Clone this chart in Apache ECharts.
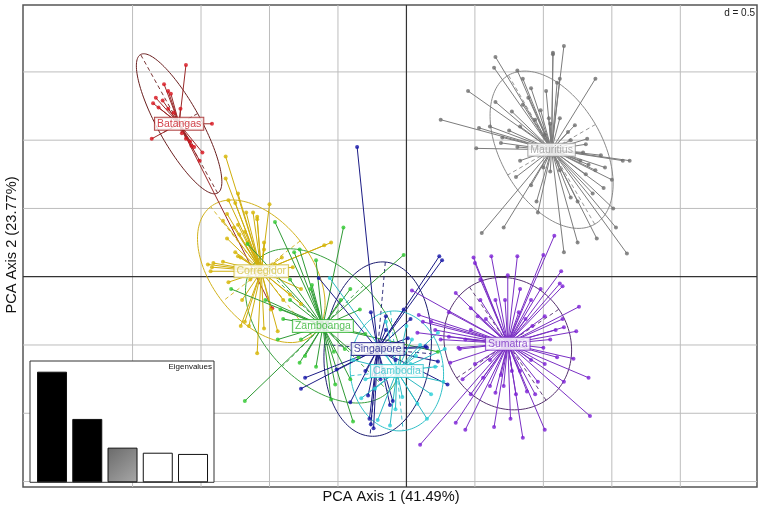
<!DOCTYPE html>
<html><head><meta charset="utf-8">
<script src="https://cdn.jsdelivr.net/npm/echarts/dist/echarts.min.js"></script>
<style>html,body{margin:0;padding:0;background:#fff}#c{width:762px;height:511px}</style>
</head><body><div id="c"></div>
<script>
// ---- data ----
const groups = ['Batangas','Corregidor','Zamboanga','Singapore','Cambodia','Sumatra','Mauritius'];
const centroids = [[-1.66,1.12],[-1.06,0.04],[-0.61,-0.36],[-0.21,-0.53],[-0.07,-0.69],[0.74,-0.49],[1.06,0.93]];
const ellA = [0.58,0.60,0.68,0.64,0.44,0.50,0.63];
const ellB = [0.155,0.36,0.42,0.39,0.34,0.45,0.37];
const ellAngle = [-61,-52,-45,85,96,124,-60];

const batangas = [[-1.61,1.55],[-1.77,1.41],[-1.74,1.36],[-1.72,1.34],[-1.83,1.31],[-1.78,1.29],[-1.85,1.27],[-1.81,1.24],[-1.74,1.23],[-1.70,1.20],[-1.65,1.23],[-1.42,1.12],[-1.86,1.01],[-1.64,1.05],[-1.61,1.01],[-1.58,0.99],[-1.57,0.96],[-1.55,0.95],[-1.49,0.91],[-1.51,0.85],[-0.98,-0.23]];
const corregidor = [[-1.32,0.88],[-1.32,0.72],[-1.23,0.61],[-1.30,0.56],[-1.25,0.54],[-1.00,0.53],[-1.17,0.47],[-1.09,0.44],[-1.09,0.42],[-1.31,0.46],[-1.34,0.41],[-1.26,0.36],[-1.31,0.28],[-1.25,0.18],[-1.04,0.25],[-1.04,0.20],[-1.16,0.25],[-0.55,0.25],[-0.60,0.23],[-1.12,0.47],[-1.23,0.38],[-1.22,0.31],[-1.18,0.33],[-1.45,0.09],[-1.42,0.07],[-1.43,0.04],[-1.41,0.10],[-1.34,0.11],[-1.21,0.14],[-1.23,0.15],[-1.30,-0.04],[-1.21,-0.36],[-1.15,-0.36],[-1.04,-0.38],[-0.94,-0.40],[-1.09,-0.56],[-1.18,-0.33],[-0.90,-0.17],[-0.85,-0.13],[-0.77,-0.09],[-0.96,0.09],[-0.91,0.14],[-0.83,0.07],[-1.14,-0.02],[-1.20,-0.17],[-0.99,-0.24],[-0.77,-0.20]];
const zamboanga = [[-0.46,0.36],[-0.78,0.20],[-0.66,0.12],[-0.02,0.16],[-0.96,0.40],[-1.16,0.24],[-0.82,0.18],[-1.28,-0.09],[-0.90,-0.31],[-0.94,-0.46],[-1.18,-0.91],[-0.78,-0.63],[-0.74,-0.58],[-0.66,-0.66],[-0.39,-1.06],[-0.53,-0.55],[0.23,-0.55],[-0.48,-0.17],[-0.41,-0.09],[-0.34,-0.24],[-0.85,-0.17],[-0.70,-0.09],[-0.52,-0.79],[-0.41,-0.75],[-0.92,-0.24],[-0.30,-0.42],[-0.55,-0.90],[-0.45,-0.53],[-0.69,-0.06],[-1.03,-0.17],[-0.85,-0.02],[-0.35,-0.59],[-0.77,-0.46]];
const singapore = [[-0.36,0.95],[-0.64,-0.01],[0.24,0.15],[0.26,0.12],[-0.02,-0.24],[-0.26,-0.26],[-0.15,-0.29],[0.01,-0.45],[0.15,-0.52],[0.23,-0.62],[-0.74,-0.74],[-0.77,-0.82],[-0.51,-0.68],[-0.41,-0.92],[-0.28,-0.87],[-0.27,-1.04],[-0.26,-1.08],[-0.24,-1.11],[-0.10,-0.91],[-0.12,-0.94],[0.30,-0.79],[-0.15,-0.39],[-0.34,-0.50],[-0.08,-0.61],[-0.19,-0.75],[-0.30,-0.69],[0.03,-0.31],[0.14,-0.51]];
const cambodia = [[-0.56,-0.01],[-0.15,-0.33],[0.00,-0.36],[0.23,-0.41],[0.07,-0.58],[0.21,-0.66],[0.27,-0.77],[0.08,-0.93],[-0.03,-0.88],[-0.12,-1.09],[-0.21,-1.05],[-0.33,-0.89],[0.15,-1.04],[0.10,-0.50],[0.03,-0.64],[-0.23,-0.82],[-0.08,-0.97],[-0.15,-0.57],[-0.30,-0.75],[0.18,-0.86],[0.04,-0.46],[-0.39,-0.61],[0.28,-0.53]];
const sumatra = [[0.49,0.14],[0.50,0.10],[0.62,0.15],[0.81,0.15],[1.00,0.16],[1.08,0.30],[0.74,0.01],[1.13,0.04],[1.12,-0.05],[1.14,-0.07],[0.36,-0.12],[1.26,-0.22],[0.47,-0.23],[0.31,-0.26],[0.09,-0.28],[0.12,-0.33],[0.08,-0.41],[0.04,-0.10],[0.18,-0.33],[0.31,-0.44],[0.82,-0.26],[1.01,-0.29],[1.14,-0.31],[1.15,-0.37],[1.24,-0.40],[1.00,-0.52],[1.22,-0.60],[1.10,-0.59],[1.33,-0.74],[1.15,-0.77],[1.34,-1.02],[0.96,-0.77],[1.01,-1.12],[0.85,-1.18],[0.76,-1.04],[0.64,-1.10],[0.43,-1.12],[0.36,-1.07],[0.10,-1.23],[0.41,-0.75],[0.56,-0.74],[0.61,-0.80],[0.65,-0.85],[0.71,-0.80],[0.88,-0.84],[0.32,-0.63],[0.38,-0.52],[0.83,-0.69],[0.52,-0.29],[0.92,-0.36],[0.94,-0.86],[0.39,-0.53],[0.54,-0.17],[0.65,-0.17],[0.91,-0.17],[0.98,-0.09],[0.47,-0.39],[0.43,-0.46],[0.61,-0.61],[0.91,-0.61],[1.01,-0.64],[0.69,-0.72],[0.77,-0.69],[0.50,-0.64],[0.58,-0.31],[0.87,-0.31],[1.05,-0.46],[1.09,-0.39],[0.25,-0.46],[0.21,-0.39],[0.80,-0.86],[0.47,-0.86],[0.72,-0.17],[0.83,-0.09],[0.54,-0.02]];
const mauritius = [[1.15,1.69],[1.07,1.64],[1.07,1.63],[0.65,1.61],[0.64,1.53],[0.81,1.51],[0.85,1.45],[1.12,1.45],[1.10,1.42],[1.38,1.45],[0.45,1.36],[0.91,1.38],[1.02,1.36],[0.65,1.28],[0.77,1.21],[0.85,1.26],[0.89,1.31],[1.05,1.12],[0.83,1.10],[0.61,1.10],[0.53,1.09],[0.25,1.15],[0.75,1.07],[0.70,1.02],[1.18,1.06],[1.32,1.01],[0.69,0.98],[0.51,0.94],[1.31,0.97],[1.29,0.91],[1.42,0.89],[1.58,0.85],[1.63,0.85],[1.33,0.82],[1.50,0.71],[1.44,0.65],[1.31,0.75],[0.80,0.73],[1.05,0.77],[1.00,0.80],[1.20,0.58],[1.25,0.55],[1.36,0.61],[1.51,0.50],[0.95,0.55],[0.96,0.47],[0.71,0.36],[0.55,0.32],[1.53,0.36],[1.39,0.28],[1.25,0.25],[1.15,0.18],[1.61,0.17],[0.81,0.95],[1.04,1.16],[0.98,1.22],[0.94,1.15],[1.12,1.16],[1.23,1.11],[1.20,1.00],[1.27,0.85],[1.12,0.78],[0.83,0.85],[0.91,0.67],[1.38,0.78],[1.45,0.80],[1.01,1.04]];
const groupPoints = [batangas, corregidor, zamboanga, singapore, cambodia, sumatra, mauritius];

const gridX = [-2,-1.5,-1,-0.5,0.5,1,1.5,2];
const gridY = [-1.5,-1,-0.5,0.5,1,1.5];
const eigCats = ['1','2','3','4','5'];
const eigValues = [41.49,23.77,13.0,11.1,10.64];

// ---- styles ----
const lineCol  = ['#9a2a2a','#cfae0c','#2f9a35','#1c1c86','#2bb9c2','#7a2fc4','#7c7c7c'];
const ptCol    = ['#d8121c','#d6b400','#2ec82e','#1212a8','#2ad0d8','#7a1ed6','#6e6e6e'];
const ellCol   = ['#6a1e1e','#d2b21c','#39a03e','#1c1c70','#30c0c8','#55306e','#8a8a8a'];
const labText  = ['#c8141e','#d4c040','#2fb42f','#1a1a8a','#30c4cc','#7a2fc4','#9a9a9a'];
const labBord  = ['#a01e1e','#d0bc30','#2fb42f','#1a1a8a','#30c4cc','#7a2fc4','#9a9a9a'];
const XMIN=-2.8, XMAX=2.56, YMIN=-1.54, YMAX=1.99;
const FONT = '"Liberation Sans", Arial, sans-serif';

const chart = echarts.init(document.getElementById('c'), null, {renderer:'canvas'});

function vLines(vals, color, w, z){
  return {type:'custom', xAxisIndex:0, yAxisIndex:0, silent:true, animation:false, z:z,
    data: vals.map(v=>[v,0]), encode:{x:0,y:1},
    renderItem:(p,api)=>{const a=api.coord([api.value(0),YMIN]), b=api.coord([api.value(0),YMAX]);
      return {type:'line', shape:{x1:a[0],y1:a[1],x2:b[0],y2:b[1]}, style:{stroke:color, lineWidth:w}};}};
}
function hLines(vals, color, w, z){
  return {type:'custom', xAxisIndex:0, yAxisIndex:0, silent:true, animation:false, z:z,
    data: vals.map(v=>[0,v]), encode:{x:0,y:1},
    renderItem:(p,api)=>{const a=api.coord([XMIN,api.value(1)]), b=api.coord([XMAX,api.value(1)]);
      return {type:'line', shape:{x1:a[0],y1:a[1],x2:b[0],y2:b[1]}, style:{stroke:color, lineWidth:w}};}};
}

const series = [];
series.push(vLines(gridX,'#bdbdbd',1,1));
series.push(hLines(gridY,'#bdbdbd',1,1));
series.push(vLines([0],'#333',1.2,1));
series.push(hLines([0],'#333',1.2,1));

groups.forEach((g,gi)=>{
  // ellipse with dashed axes
  series.push({type:'custom', xAxisIndex:0, yAxisIndex:0, silent:true, animation:false, clip:true, z:3,
    data:[[centroids[gi][0],centroids[gi][1],ellA[gi],ellB[gi],ellAngle[gi]]], encode:{x:0,y:1},
    renderItem:(p,api)=>{
      const cx=api.value(0), cy=api.value(1), a=api.value(2), b=api.value(3), th=api.value(4)*Math.PI/180;
      const ct=Math.cos(th), st=Math.sin(th); const pts=[];
      for(let k=0;k<=140;k++){const t=k/140*2*Math.PI;
        pts.push(api.coord([cx+a*ct*Math.cos(t)-b*st*Math.sin(t), cy+a*st*Math.cos(t)+b*ct*Math.sin(t)]));}
      const m1=api.coord([cx+a*ct,cy+a*st]), m2=api.coord([cx-a*ct,cy-a*st]);
      const n1=api.coord([cx-b*st,cy+b*ct]), n2=api.coord([cx+b*st,cy-b*ct]);
      return {type:'group', children:[
        {type:'polyline', shape:{points:pts}, style:{stroke:ellCol[gi], lineWidth:1, fill:null}},
        {type:'line', shape:{x1:m1[0],y1:m1[1],x2:m2[0],y2:m2[1]}, style:{stroke:ellCol[gi], lineWidth:0.9, lineDash:[4,3]}},
        {type:'line', shape:{x1:n1[0],y1:n1[1],x2:n2[0],y2:n2[1]}, style:{stroke:ellCol[gi], lineWidth:0.9, lineDash:[4,3]}}
      ]};
    }});
  // star lines
  series.push({type:'custom', xAxisIndex:0, yAxisIndex:0, silent:true, animation:false, clip:true, z:4,
    data: groupPoints[gi], encode:{x:0,y:1},
    renderItem:(p,api)=>{const q=api.coord([api.value(0),api.value(1)]); const o=api.coord(centroids[gi]);
      return {type:'line', shape:{x1:o[0],y1:o[1],x2:q[0],y2:q[1]}, style:{stroke:lineCol[gi], lineWidth:1}};}});
  // points
  series.push({type:'scatter', xAxisIndex:0, yAxisIndex:0, silent:true, animation:false, z:5,
    data: groupPoints[gi], symbol:'circle', symbolSize:4, itemStyle:{color:ptCol[gi]}});
});

// class labels
series.push({type:'scatter', xAxisIndex:0, yAxisIndex:0, silent:true, animation:false, z:20, symbolSize:0,
  data: groups.map((g,gi)=>({name:g, value:centroids[gi],
    label:{show:true, position:'inside', formatter:'{b}', color:labText[gi], borderColor:labBord[gi], borderWidth:1,
      backgroundColor:'#fff', padding:[1,2,0,2], fontSize:10.5, fontFamily:FONT}}))});

// eigenvalue bars
series.push({type:'bar', xAxisIndex:1, yAxisIndex:1, silent:true, animation:false, z:60, barWidth:30,
  data: eigValues.map((v,i)=>({value:v, itemStyle:{
    color: i<2 ? '#000' : (i===2 ? {type:'linear',x:0,y:0,x2:1,y2:1,colorStops:[{offset:0,color:'#6a6a6a'},{offset:1,color:'#a8a8a8'}]} : '#fff'),
    borderColor:'#111', borderWidth:1}}))});

const option = {
  backgroundColor:'#fff',
  animation:false,
  grid:[
    {left:23, top:5, right:5, bottom:24, show:true, borderColor:'#555', borderWidth:1.5, backgroundColor:'transparent'},
    {left:34.4, top:361, width:176.25, height:121.3, show:false}
  ],
  xAxis:[
    {type:'value', gridIndex:0, min:XMIN, max:XMAX, show:false},
    {type:'category', gridIndex:1, data:eigCats, show:false}
  ],
  yAxis:[
    {type:'value', gridIndex:0, min:YMIN, max:YMAX, show:false},
    {type:'value', gridIndex:1, min:0, max:45.5, show:false}
  ],
  graphic:[
    {type:'rect', z:50, shape:{x:30, y:361, width:184, height:121.3}, style:{fill:'#fff', stroke:'#333', lineWidth:1}},
    {type:'text', z:61, x:212, y:367, style:{text:'Eigenvalues', font:'8px '+FONT, fill:'#111', textAlign:'right', textVerticalAlign:'middle'}},
    {type:'text', z:61, x:755, y:13, style:{text:'d = 0.5', font:'10px '+FONT, fill:'#222', textAlign:'right', textVerticalAlign:'middle'}},
    {type:'text', z:61, x:391, y:497, style:{text:'PCA Axis 1 (41.49%)', font:'14.6px '+FONT, fill:'#111', textAlign:'center', textVerticalAlign:'middle'}},
    {type:'text', z:61, x:12, y:245, rotation:Math.PI/2, style:{text:'PCA Axis 2 (23.77%)', font:'14.6px '+FONT, fill:'#111', textAlign:'center', textVerticalAlign:'middle'}}
  ],
  series: series
};
chart.setOption(option);
</script></body></html>
